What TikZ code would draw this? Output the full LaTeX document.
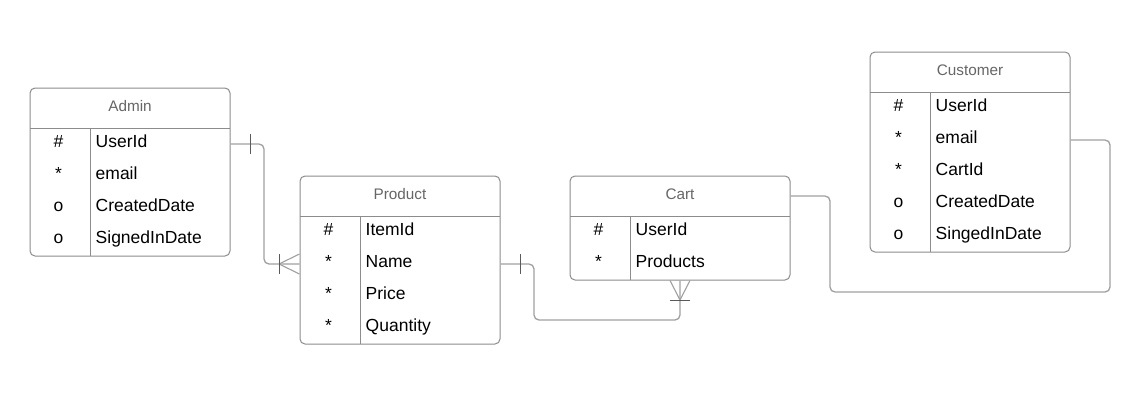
\documentclass[tikz,border=0pt]{standalone}
\usepackage{fontspec}
\setmainfont{Liberation Sans}
\definecolor{boxc}{HTML}{8C8C8C}
\definecolor{hdrc}{HTML}{666666}
\definecolor{lnc}{HTML}{A0A0A0}
\definecolor{tickc}{HTML}{5A5A5A}
\newcommand{\erent}[8]{%
  \node[ebox, minimum width={(#4)-(#2)}, minimum height={(#6)-(#3)}] (#1) at ({((#2)+(#4))/2},{((#3)+(#6))/2}) {};
  \draw[eline] (#2,#3+40) -- (#4,#3+40);
  \draw[eline] (#5,#3+40) -- (#5,#6);
  \node[htext] (#1-h) at ({((#2)+(#4))/2},#3+23.5) {#7};
  \foreach \k/\a [count=\i] in {#8} {
    \node[ktext] (#1-k\i) at (#2+28.5,{#3+59.5+32*(\i-1)}) {\k};
    \node[atext] (#1-a\i) at (#5+5.5,{#3+59.5+32*(\i-1)}) {\a};
  }%
}
\begin{document}
\begin{tikzpicture}[x=1pt,y=-1pt,
  ebox/.style={draw=boxc, line width=1pt, rounded corners=5pt, inner sep=0pt, fill=white},
  eline/.style={draw=boxc, line width=1pt},
  htext/.style={anchor=base, inner sep=0pt, text=hdrc, font=\fontsize{15.3}{17}\selectfont},
  ktext/.style={anchor=base, inner sep=0pt, font=\fontsize{17.5}{19}\selectfont},
  atext/.style={anchor=base west, inner sep=0pt, font=\fontsize{17.5}{19}\selectfont},
  conn/.style={draw=lnc, line width=1.3pt, rounded corners=5pt},
  foot/.style={draw=lnc, line width=1.1pt},
  tickl/.style={draw=tickc, line width=1pt}]
\useasboundingbox (0,0) rectangle (1130,413);

\erent{admin}{30}{88}{230}{90}{256}{Admin}{\#/UserId,*/email,o/CreatedDate,o/SignedInDate}
\erent{product}{300}{176}{500}{360}{344}{Product}{\#/ItemId,*/Name,*/Price,*/Quantity}
\erent{cart}{570}{176}{790}{630}{280}{Cart}{\#/UserId,*/Products}
\erent{customer}{870}{52}{1070}{930}{252}{Customer}{\#/UserId,*/email,*/CartId,o/CreatedDate,o/SingedInDate}

% Admin -> Product
\draw[conn] (admin.east |- 0,144) -- (264,144) -- (264,264) -- (product.west |- 0,264);
\draw[tickl] (250,134) -- (250,154);
\draw[foot] (279,264) -- (product.west |- 0,254) (279,264) -- (product.west |- 0,274);
\draw[tickl] (279,254) -- (279,274);

% Product -> Cart
\draw[conn] (product.east |- 0,264) -- (534,264) -- (534,320) -- (680,320) -- (cart.south -| 680,0);
\draw[tickl] (520,254) -- (520,274);
\draw[foot] (680,300) -- (cart.south -| 670,0) (680,300) -- (cart.south -| 690,0);
\draw[tickl] (670,300) -- (690,300);

% Cart -> Customer
\draw[conn] (cart.east |- 0,196) -- (830,196) -- (830,292) -- (1110,292) -- (1110,140) -- (customer.east |- 0,140);
\end{tikzpicture}
\end{document}
